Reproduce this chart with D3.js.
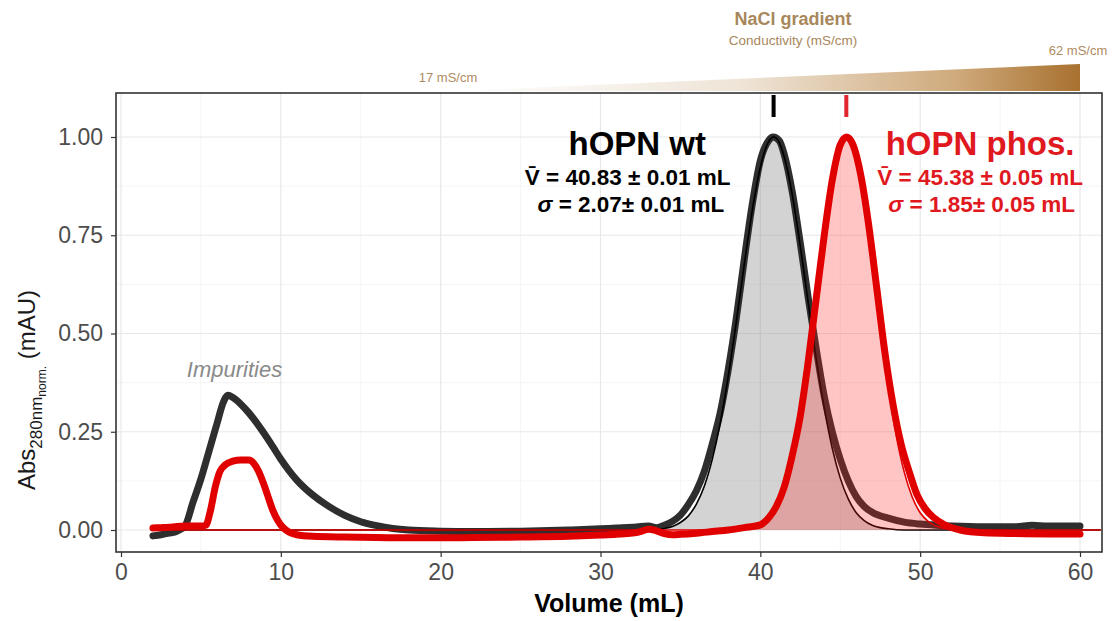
<!DOCTYPE html>
<html>
<head>
<meta charset="utf-8">
<script src="https://cdn.jsdelivr.net/npm/d3@7"></script>
<style>
  body { margin: 0; background: #fff; }
  svg { font-family: "Liberation Sans", Arial, Helvetica, sans-serif; }
</style>
</head>
<body>
<div id="chart"></div>
<script>
const wtTrace = [
  [2, -0.015], [2.5, -0.012], [3, -0.008], [3.5, -0.003], [4, 0.01], [4.5, 0.07],
  [5, 0.13], [5.5, 0.2], [6, 0.27], [6.4, 0.325], [6.7, 0.343], [7, 0.337], [7.5, 0.32],
  [8, 0.298], [8.5, 0.272], [9, 0.243], [9.5, 0.212], [10, 0.18], [10.5, 0.152],
  [11, 0.127], [12, 0.089], [13, 0.06], [14, 0.037], [15, 0.021], [16, 0.011], [17, 0.004],
  [18, 0.0], [20, -0.003], [22, -0.004], [25, -0.003], [28, 0.0], [30, 0.003], [31, 0.005],
  [32, 0.007], [32.5, 0.009], [33, 0.01], [33.5, 0.006], [34, 0.012], [34.5, 0.022],
  [35, 0.038], [35.5, 0.065], [36, 0.1], [36.5, 0.15], [37, 0.22], [37.5, 0.3],
  [38, 0.41], [38.5, 0.54], [39, 0.69], [39.5, 0.83], [40, 0.94], [40.5, 0.99],
  [40.8, 1.0], [41.2, 0.99], [41.5, 0.955], [42, 0.86], [42.5, 0.73], [43, 0.59],
  [43.5, 0.46], [44, 0.34], [44.5, 0.25], [45, 0.18], [45.5, 0.125], [46, 0.085],
  [46.5, 0.06], [47, 0.045], [48, 0.03], [49, 0.02], [50, 0.015], [51, 0.012],
  [52, 0.01], [54, 0.008], [56, 0.008], [57, 0.012], [58, 0.01], [60, 0.01]
];

const phosTrace = [
  [2, 0.005], [2.5, 0.006], [3, 0.007], [3.5, 0.009], [4, 0.01], [4.5, 0.01], [5, 0.01],
  [5.3, 0.012], [5.6, 0.05], [5.9, 0.11], [6.2, 0.15], [6.5, 0.165], [7, 0.175],
  [7.5, 0.178], [8, 0.178], [8.3, 0.17], [8.6, 0.15], [8.9, 0.12], [9.2, 0.085],
  [9.5, 0.05], [9.8, 0.025], [10.1, 0.008], [10.5, -0.005], [11, -0.012], [12, -0.016],
  [14, -0.018], [16, -0.019], [18, -0.02], [20, -0.02], [22, -0.019], [25, -0.018],
  [28, -0.016], [30, -0.013], [31, -0.011], [32, -0.008], [32.5, -0.004], [33, 0.002],
  [33.5, -0.002], [34, -0.009], [34.5, -0.012], [35, -0.011], [36, -0.008], [37, -0.004],
  [38, 0.0], [39, 0.006], [40, 0.013], [40.5, 0.03], [41, 0.06], [41.5, 0.11], [42, 0.19],
  [42.5, 0.29], [43, 0.43], [43.5, 0.59], [44, 0.75], [44.5, 0.89], [45, 0.98],
  [45.4, 1.0], [45.8, 0.98], [46.3, 0.9], [46.8, 0.77], [47.3, 0.61], [47.8, 0.45],
  [48.3, 0.32], [48.8, 0.22], [49.3, 0.15], [49.8, 0.09], [50.3, 0.055], [50.8, 0.033],
  [51.5, 0.014], [52.5, 0.0], [54, -0.007], [56, -0.009], [58, -0.01], [60, -0.01]
];

// Ajustes gaussianos (linha fina + área sombreada)
const wtFit = [
  [2, 0], [33, 0], [34, 0.004], [34.5, 0.009], [35, 0.019], [35.5, 0.036], [36, 0.066],
  [36.5, 0.112], [37, 0.181], [37.5, 0.274], [38, 0.393], [38.5, 0.531], [39, 0.677],
  [39.5, 0.814], [40, 0.923], [40.5, 0.987], [40.83, 1.0], [41, 0.997], [41.5, 0.949],
  [42, 0.852], [42.5, 0.722], [43, 0.577], [43.5, 0.435], [44, 0.31], [44.5, 0.208],
  [45, 0.132], [45.5, 0.079], [46, 0.044], [46.5, 0.024], [47, 0.012], [47.5, 0.006],
  [48, 0.003], [49, 0], [61.3, 0]
];

const phosFit = [
  [2, 0], [38.5, 0], [39.5, 0.006], [40, 0.015], [40.5, 0.031], [41, 0.061], [41.5, 0.111],
  [42, 0.189], [42.5, 0.298], [43, 0.437], [43.5, 0.597], [44, 0.757], [44.5, 0.893],
  [45, 0.979], [45.38, 1.0], [45.5, 0.998], [46, 0.946], [46.5, 0.833], [47, 0.682],
  [47.5, 0.519], [48, 0.367], [48.5, 0.241], [49, 0.148], [49.5, 0.084], [50, 0.044],
  [50.5, 0.022], [51, 0.01], [51.5, 0.004], [52, 0.002], [53, 0], [61.3, 0]
];

// Volumes de eluição médios (marcadores no topo)
const peakMarkers = [
  { vol: 40.83, color: "#000000" },
  { vol: 45.38, color: "#e0262c" }
];

const xTicks = [0, 10, 20, 30, 40, 50, 60];
const xMinor = [5, 15, 25, 35, 45, 55];
const yTicks = [0, 0.25, 0.5, 0.75, 1];
const yMinor = [0.125, 0.375, 0.625, 0.875];

// Gradiente de NaCl (volume inicial/final)
const gradientVol = [21, 60];

// Configurações gerais
const svgWidth = 1117;
const svgHeight = 621;
const panel = { left: 116, right: 1102, top: 93, bottom: 552 };
const wtColor = "#2e2e2e";
const phosColor = "#e10000";
const textRed = "#e0191f";
const fontFamily = "'Liberation Sans', Arial, sans-serif";

const svg = d3.select("#chart")
  .append("svg")
  .attr("width", svgWidth)
  .attr("height", svgHeight);

// Escalas
const x = d3.scaleLinear().domain([0, 60]).range([121, 1080]);
const y = d3.scaleLinear().domain([0, 1]).range([530, 137]);

// Recorte do painel
svg.append("defs").append("clipPath")
  .attr("id", "clip")
  .append("rect")
  .attr("x", panel.left).attr("y", panel.top)
  .attr("width", panel.right - panel.left)
  .attr("height", panel.bottom - panel.top);

// Grade
const grid = svg.append("g");
grid.selectAll(".xminor").data(xMinor).enter().append("line")
  .attr("x1", d => x(d)).attr("x2", d => x(d))
  .attr("y1", panel.top).attr("y2", panel.bottom)
  .attr("stroke", "#f3f3f3").attr("stroke-width", 0.8);
grid.selectAll(".yminor").data(yMinor).enter().append("line")
  .attr("x1", panel.left).attr("x2", panel.right)
  .attr("y1", d => y(d)).attr("y2", d => y(d))
  .attr("stroke", "#f3f3f3").attr("stroke-width", 0.8);
grid.selectAll(".xmajor").data(xTicks).enter().append("line")
  .attr("x1", d => x(d)).attr("x2", d => x(d))
  .attr("y1", panel.top).attr("y2", panel.bottom)
  .attr("stroke", "#e8e8e8").attr("stroke-width", 1.2);
grid.selectAll(".ymajor").data(yTicks).enter().append("line")
  .attr("x1", panel.left).attr("x2", panel.right)
  .attr("y1", d => y(d)).attr("y2", d => y(d))
  .attr("stroke", "#e8e8e8").attr("stroke-width", 1.2);

const plot = svg.append("g").attr("clip-path", "url(#clip)");

const area = d3.area()
  .x(d => x(d[0])).y0(y(0)).y1(d => y(d[1]))
  .curve(d3.curveMonotoneX);
const line = d3.line()
  .x(d => x(d[0])).y(d => y(d[1]))
  .curve(d3.curveMonotoneX);

// hOPN wt: área do ajuste, dados, ajuste
plot.append("path").datum(wtFit).attr("d", area)
  .attr("fill", "#8c8c8c").attr("fill-opacity", 0.38);
plot.append("path").datum(wtTrace).attr("d", line)
  .attr("fill", "none").attr("stroke", wtColor).attr("stroke-width", 7)
  .attr("stroke-linejoin", "round").attr("stroke-linecap", "round");
plot.append("path").datum(wtFit).attr("d", line)
  .attr("fill", "none").attr("stroke", "#000").attr("stroke-width", 1.6);

// hOPN phos.: área do ajuste, dados, ajuste
plot.append("path").datum(phosFit).attr("d", area)
  .attr("fill", "#ff2020").attr("fill-opacity", 0.26);
plot.append("path").datum(phosTrace).attr("d", line)
  .attr("fill", "none").attr("stroke", phosColor).attr("stroke-width", 7)
  .attr("stroke-linejoin", "round").attr("stroke-linecap", "round");
plot.append("path").datum(phosFit).attr("d", line)
  .attr("fill", "none").attr("stroke", phosColor).attr("stroke-width", 1.6);

// Marcadores dos volumes de eluição
svg.selectAll(".marker").data(peakMarkers).enter().append("rect")
  .attr("x", d => x(d.vol) - 2).attr("y", panel.top + 2)
  .attr("width", 4).attr("height", 22)
  .attr("fill", d => d.color);

// Borda do painel
svg.append("rect")
  .attr("x", panel.left).attr("y", panel.top)
  .attr("width", panel.right - panel.left)
  .attr("height", panel.bottom - panel.top)
  .attr("fill", "none").attr("stroke", "#333").attr("stroke-width", 1.6);

// Eixo X
const xAxis = svg.append("g")
  .attr("transform", `translate(0, ${panel.bottom})`)
  .call(d3.axisBottom(x).tickValues(xTicks).tickSize(5).tickPadding(7));
xAxis.select(".domain").remove();
xAxis.selectAll("line").attr("stroke", "#333").attr("stroke-width", 1.2);
xAxis.selectAll("text")
  .attr("fill", "#4d4d4d").style("font-size", "23px")
  .style("font-family", fontFamily);

// Eixo Y
const yAxis = svg.append("g")
  .attr("transform", `translate(${panel.left}, 0)`)
  .call(d3.axisLeft(y).tickValues(yTicks).tickFormat(d3.format(".2f")).tickSize(5).tickPadding(8));
yAxis.select(".domain").remove();
yAxis.selectAll("line").attr("stroke", "#333").attr("stroke-width", 1.2);
yAxis.selectAll("text")
  .attr("fill", "#4d4d4d").style("font-size", "23px")
  .style("font-family", fontFamily);

// Rótulo do eixo X
svg.append("text")
  .attr("x", (panel.left + panel.right) / 2)
  .attr("y", 612)
  .attr("text-anchor", "middle")
  .attr("font-weight", "bold")
  .attr("font-size", 25)
  .text("Volume (mL)");

// Rótulo do eixo Y com subscritos
const yLabel = svg.append("text")
  .attr("transform", "translate(35, 490) rotate(-90)")
  .attr("font-size", 24)
  .attr("fill", "#1a1a1a");
yLabel.append("tspan").text("Abs");
yLabel.append("tspan").attr("font-size", 17).attr("dy", 7).text("280nm");
yLabel.append("tspan").attr("font-size", 12).attr("dy", 4).text("norm.");
yLabel.append("tspan").attr("dy", -11).text(" (mAU)");

// Anotações dos picos
const annot = svg.append("g").attr("font-weight", "bold").attr("text-anchor", "middle");
annot.append("text").attr("x", x(32.3)).attr("y", 155).attr("font-size", 33)
  .attr("fill", "#000").text("hOPN wt");
annot.append("text").attr("x", x(31.7)).attr("y", 185).attr("font-size", 22.5)
  .attr("fill", "#000").text("V\u0304 = 40.83 \u00b1 0.01 mL");
const wtSigma = annot.append("text").attr("x", x(31.9)).attr("y", 212).attr("font-size", 22.5)
  .attr("fill", "#000");
wtSigma.append("tspan").attr("font-style", "italic").text("\u03c3");
wtSigma.append("tspan").text(" = 2.07\u00b1 0.01 mL");

annot.append("text").attr("x", x(53.75)).attr("y", 155).attr("font-size", 33)
  .attr("fill", textRed).text("hOPN phos.");
annot.append("text").attr("x", x(53.75)).attr("y", 185).attr("font-size", 22.5)
  .attr("fill", textRed).text("V\u0304 = 45.38 \u00b1 0.05 mL");
const phSigma = annot.append("text").attr("x", x(53.85)).attr("y", 212).attr("font-size", 22.5)
  .attr("fill", textRed);
phSigma.append("tspan").attr("font-style", "italic").text("\u03c3");
phSigma.append("tspan").text(" = 1.85\u00b1 0.05 mL");

svg.append("text")
  .attr("x", x(7.1)).attr("y", 377)
  .attr("text-anchor", "middle")
  .attr("font-style", "italic").attr("font-size", 22)
  .attr("fill", "#8a8a8a")
  .text("Impurities");

// Cunha do gradiente de NaCl
const grad = svg.select("defs").append("linearGradient")
  .attr("id", "nacl")
  .attr("gradientUnits", "userSpaceOnUse")
  .attr("x1", x(gradientVol[0])).attr("x2", x(gradientVol[1]))
  .attr("y1", 0).attr("y2", 0);
grad.append("stop").attr("offset", 0).attr("stop-color", "#ffffff");
grad.append("stop").attr("offset", 0.45).attr("stop-color", "#efe5d8");
grad.append("stop").attr("offset", 0.8).attr("stop-color", "#cfaa7c");
grad.append("stop").attr("offset", 1).attr("stop-color", "#a8712f");

svg.append("path")
  .attr("d", `M${x(gradientVol[0])},91 L${x(gradientVol[1])},64 L${x(gradientVol[1])},91 Z`)
  .attr("fill", "url(#nacl)");

const tan = "#a8875c";
svg.append("text").attr("x", 793).attr("y", 25).attr("text-anchor", "middle")
  .attr("font-weight", "bold").attr("font-size", 18).attr("fill", tan)
  .text("NaCl gradient");
svg.append("text").attr("x", 793).attr("y", 45).attr("text-anchor", "middle")
  .attr("font-size", 13.5).attr("fill", tan)
  .text("Conductivity (mS/cm)");
svg.append("text").attr("x", 448).attr("y", 82).attr("text-anchor", "middle")
  .attr("font-size", 13).attr("fill", "#b08b62")
  .text("17 mS/cm");
svg.append("text").attr("x", 1078).attr("y", 55).attr("text-anchor", "middle")
  .attr("font-size", 13).attr("fill", "#b08b62")
  .text("62 mS/cm");
</script>
</body>
</html>
